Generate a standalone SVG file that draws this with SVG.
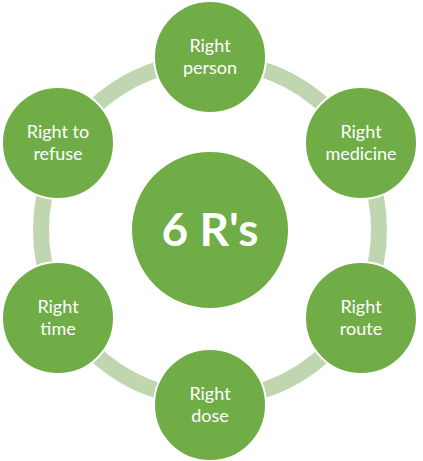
<svg xmlns="http://www.w3.org/2000/svg" width="423" height="461" viewBox="0 0 423 461">
<style>
.n{fill:#70AD47;stroke:#FFFFFF;stroke-width:2}
.t{fill:#FFFFFF;font-family:Lato,"Open Sans","Liberation Sans",sans-serif;font-size:18px;text-anchor:middle}
.c{fill:#FFFFFF;font-family:Lato,"Open Sans","Liberation Sans",sans-serif;font-size:46px;font-weight:bold;text-anchor:middle}
</style>
<rect width="423" height="461" fill="#FFFFFF"/>
<g id="connectors">
<circle cx="210" cy="230" r="169" fill="none" stroke="#BFD6B0" stroke-width="16"/>
</g>
<g id="center">
<circle class="n" cx="210" cy="230" r="79"/>
<text class="c" x="210" y="246">6 R's</text>
</g>
<g id="right-person">
<circle class="n" cx="210" cy="57" r="56"/>
<text class="t" x="210" y="52">Right</text>
<text class="t" x="210" y="74">person</text>
</g>
<g id="right-medicine">
<circle class="n" cx="361" cy="143" r="56"/>
<text class="t" x="361" y="138">Right</text>
<text class="t" x="361" y="160">medicine</text>
</g>
<g id="right-route">
<circle class="n" cx="361" cy="318" r="56"/>
<text class="t" x="361" y="313">Right</text>
<text class="t" x="361" y="335">route</text>
</g>
<g id="right-dose">
<circle class="n" cx="210" cy="405" r="56"/>
<text class="t" x="210" y="400">Right</text>
<text class="t" x="210" y="422">dose</text>
</g>
<g id="right-time">
<circle class="n" cx="58" cy="318" r="56"/>
<text class="t" x="58" y="313">Right</text>
<text class="t" x="58" y="335">time</text>
</g>
<g id="right-to-refuse">
<circle class="n" cx="58" cy="143" r="56"/>
<text class="t" x="58" y="138">Right to</text>
<text class="t" x="58" y="160">refuse</text>
</g>
</svg>
